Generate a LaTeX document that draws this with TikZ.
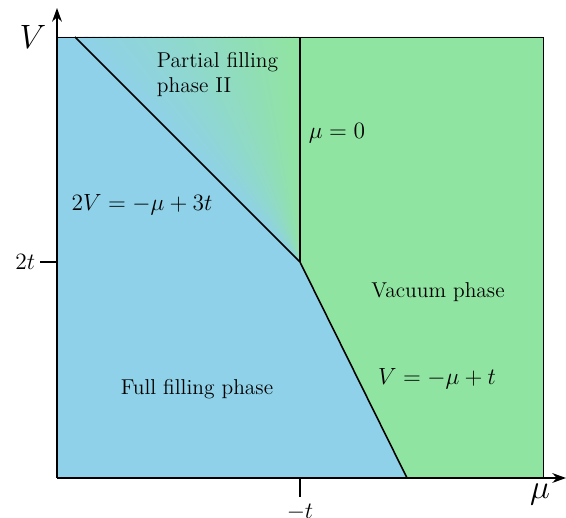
\documentclass[tikz,border=0pt]{standalone}
\usepackage{amsmath}
\usepackage{xcolor}
\usetikzlibrary{arrows.meta}

\definecolor{fullblue}{RGB}{143,209,232}
\definecolor{vacgreen}{RGB}{144,228,161}

\tikzset{
  phaseline/.style={line width=0.8pt},
  axisline/.style={line width=0.9pt, -{Stealth[length=7pt, width=5pt]}},
  phaselabel/.style={font=\fontsize{11}{12.8}\selectfont},
  eqlabel/.style={font=\fontsize{12.6}{15}\selectfont},
}

\begin{document}
\begin{tikzpicture}[x=0.018cm, y=0.018cm]
  \useasboundingbox (-57,-40) rectangle (509,478);
  \coordinate (O) at (0,0);
  \coordinate (A) at (243,216);
  \coordinate (B) at (350,0);
  \coordinate (C) at (18,441);
  \coordinate (D) at (243,441);

  % Full filling area
  \fill[fullblue] (O) -- (0,441) -- (C) -- (A) -- (B) -- cycle;

  % Vacuum area
  \fill[vacgreen] (D) -- (486,441) -- (486,0) -- (B) -- (A) -- cycle;

  % Partial filling area (blue to green)
  \begin{scope}
    \clip (C) -- (D) -- (A) -- cycle;
    \foreach \i in {0,...,44}{
      \pgfmathsetmacro{\p}{100*\i/44}
      \fill[vacgreen!\p!fullblue] (A) -- +(135.7-\i:420) -- +(133.3-\i:420) -- cycle;
    }
  \end{scope}

  % Frame
  \draw[line width=0.5pt] (0,441) -- (486,441) -- (486,0);

  % Phase boundaries
  \draw[phaseline] (C) -- (A) -- (B);
  \draw[phaseline] (A) -- (D);

  % Axes
  \draw[axisline] (O) -- (509,0);
  \draw[axisline] (O) -- (0,470);
  \node[font=\LARGE] (mu) at (483,-17) {$\mu$};
  \node[font=\LARGE] (vlab) at (-24,441) {$V$};

  % Ticks
  \draw[line width=0.9pt] (0,216) -- (-17,216) node[left, font=\large, inner sep=2pt] (twot) {$2t$};
  \draw[line width=0.9pt] (243,0) -- (243,-19) node[below, font=\large] (mt) {$-t$};

  % Labels
  \node[phaselabel, align=left, anchor=west] (partial) at (93,403) {Partial filling\\phase II};
  \node[eqlabel] (mu0) at (280,345) {$\mu=0$};
  \node[eqlabel] (eqa) at (85,273) {$2V=-\mu+3t$};
  \node[phaselabel] (vac) at (381,186) {Vacuum phase};
  \node[eqlabel] (eqb) at (380,99) {$V=-\mu+t$};
  \node[phaselabel] (full) at (140,89) {Full filling phase};
\end{tikzpicture}
\end{document}
